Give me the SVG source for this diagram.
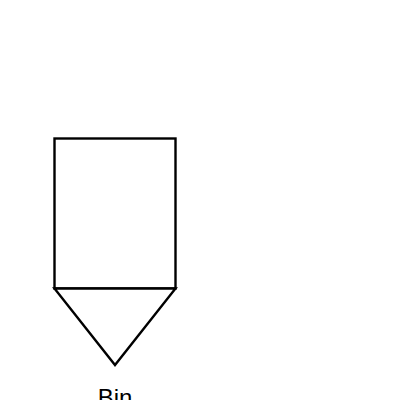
<svg xmlns="http://www.w3.org/2000/svg" width="400" height="400" viewBox="0 0 400 400">
<style>.s{fill:#fff;stroke:#000;stroke-width:2.4}.t{font-family:"Liberation Sans",Arial,sans-serif;font-size:24px;fill:#000;text-anchor:middle}</style>
<rect width="400" height="400" fill="#fff"/>
<g id="bin">
<rect class="s" x="54.5" y="138.5" width="121" height="150"/>
<polygon class="s" points="54.5,288.5 175.5,288.5 115,365"/>
<text class="t" x="115" y="406">Bin</text>
</g>
<g id="connectors"/>
</svg>
